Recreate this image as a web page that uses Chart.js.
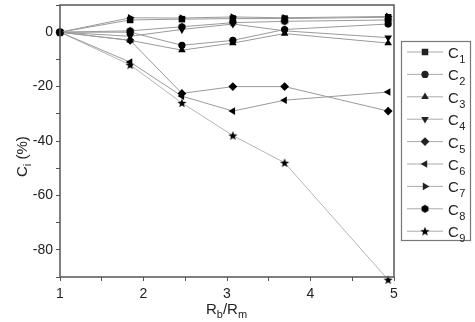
<!DOCTYPE html>
<html lang="en">
<head>
  <meta charset="UTF-8">
  <title>C_i vs R_b/R_m</title>
  <script src="https://cdn.jsdelivr.net/npm/chart.js"></script>
  <style>
    html, body { margin: 0; padding: 0; background: #fff; }
    #wrap { width: 475px; height: 322px; position: relative; }
  </style>
</head>
<body>
  <div id="wrap"><canvas id="chart" width="475" height="322"></canvas></div>
  <script>
    // x positions (R_b/R_m) and each series in %
    const ratios = [1, 1.84, 2.46, 3.07, 3.69, 4.93];
    const seriesNames = ["1", "2", "3", "4", "5", "6", "7", "8", "9"];
    const c1 = [0, 4.5, 4.8, 5.0, 5.0, 5.5];
    const c2 = [0, 0, -4.8, -3.0, 1.0, 3.0];
    const c3 = [0, -3.0, -6.6, -4.0, -0.5, -4.0];
    const c4 = [0, -1.5, 1.0, 3.0, 0.5, -2.0];
    const c5 = [0, -3.0, -22.5, -20.0, -20.0, -29.0];
    const c6 = [0, -11.0, -23.5, -29.0, -25.0, -22.0];
    const c7 = [0, 5.3, 5.2, 5.6, 5.3, 5.8];
    const c8 = [0, 0.5, 2.0, 3.5, 4.0, 4.5];
    const c9 = [0, -12.0, -26.0, -38.0, -48.0, -91.0];
    const yTicks = [0, -20, -40, -60, -80];
    const xTicks = [1, 2, 3, 4, 5];

    // custom markers the library lacks
    function makeMarker(kind) {
      const c = document.createElement("canvas");
      c.width = 10; c.height = 10;
      const g = c.getContext("2d");
      g.fillStyle = "#000";
      g.beginPath();
      if (kind === "hex") {
        for (let i = 0; i < 6; i++) {
          const a = Math.PI / 6 + i * Math.PI / 3;
          g.lineTo(5 + 4 * Math.cos(a), 5 + 4 * Math.sin(a));
        }
      } else {
        for (let i = 0; i < 10; i++) {
          const r = i % 2 === 0 ? 4.8 : 2.0;
          const a = -Math.PI / 2 + i * Math.PI / 5;
          g.lineTo(5 + r * Math.cos(a), 5.4 + r * Math.sin(a));
        }
      }
      g.closePath();
      g.fill();
      return c;
    }
    const hexMarker = makeMarker("hex");
    const starMarker = makeMarker("star");

    const styles = [
      { pointStyle: "rect", radius: 4.6, rotation: 0 },
      { pointStyle: "circle", radius: 3.6, rotation: 0 },
      { pointStyle: "triangle", radius: 4.4, rotation: 0 },
      { pointStyle: "triangle", radius: 4.4, rotation: 180 },
      { pointStyle: "rectRot", radius: 4.4, rotation: 0 },
      { pointStyle: "triangle", radius: 4.4, rotation: 270 },
      { pointStyle: "triangle", radius: 4.4, rotation: 90 },
      { pointStyle: hexMarker, radius: 4, rotation: 0 },
      { pointStyle: starMarker, radius: 4, rotation: 0 }
    ];
    const allSeries = [c1, c2, c3, c4, c5, c6, c7, c8, c9];

    const datasets = allSeries.map((vals, i) => ({
      label: "C" + seriesNames[i],
      data: ratios.map((x, k) => ({ x: x, y: vals[k] })),
      borderColor: i === 8 ? "#b5b5b5" : "#9a9a9a",
      borderWidth: 1,
      backgroundColor: "#000",
      pointBackgroundColor: "#000",
      pointBorderColor: "#000",
      pointBorderWidth: 0,
      pointStyle: styles[i].pointStyle,
      pointRadius: styles[i].radius,
      pointRotation: styles[i].rotation,
      tension: 0,
      clip: false
    }));

    // frame, axis titles with subscripts, and the boxed legend
    const extras = {
      id: "extras",
      afterDraw(chart) {
        const ctx = chart.ctx;
        const a = chart.chartArea;
        ctx.save();
        ctx.strokeStyle = "#555";
        ctx.lineWidth = 1.5;
        ctx.strokeRect(a.left, a.top, a.right - a.left, a.bottom - a.top);

        ctx.fillStyle = "#222";
        ctx.textBaseline = "alphabetic";
        // x title: R_b/R_m
        let x = 206, y = 314;
        const part = (t, big, dy) => {
          ctx.font = (big ? "15px" : "11px") + " 'Liberation Sans', Arial, sans-serif";
          ctx.fillText(t, x, y + dy);
          x += ctx.measureText(t).width;
        };
        part("R", true, 0); part("b", false, 4); part("/R", true, 0); part("m", false, 4);

        // y title: C_i (%)
        ctx.translate(27, 153);
        ctx.rotate(-Math.PI / 2);
        x = -24; y = 0;
        part("C", true, 0); part("i", false, 4); part(" (%)", true, 0);
        ctx.setTransform(1, 0, 0, 1, 0, 0);

        // legend
        ctx.strokeStyle = "#777";
        ctx.lineWidth = 1.2;
        ctx.strokeRect(401.5, 41.5, 69, 199);
        chart.data.datasets.forEach((ds, i) => {
          const ly = 52 + i * 22.4;
          ctx.strokeStyle = "#aaa";
          ctx.lineWidth = 1;
          ctx.beginPath();
          ctx.moveTo(407, ly);
          ctx.lineTo(443, ly);
          ctx.stroke();
          Chart.helpers.drawPoint(ctx, {
            pointStyle: ds.pointStyle,
            radius: ds.pointRadius,
            rotation: ds.pointRotation,
            borderWidth: 0
          }, 425, ly);
          ctx.fillStyle = "#222";
          x = 448; y = ly + 6;
          part("C", true, 0);
          x += 0.5;
          part(seriesNames[i], false, 5);
        });
        ctx.restore();
      }
    };

    new Chart(document.getElementById("chart"), {
      type: "line",
      data: { datasets },
      options: {
        responsive: false,
        animation: false,
        layout: { padding: { top: 0, right: 81, left: 0, bottom: 0 } },
        plugins: { legend: { display: false }, tooltip: { enabled: false } },
        scales: {
          x: {
            type: "linear",
            min: 1,
            max: 5,
            afterFit: (s) => { s.height = 45; s.paddingLeft = 0; s.paddingRight = 0; },
            ticks: {
              stepSize: 0.5,
              autoSkip: false,
              maxRotation: 0,
              padding: 5,
              color: "#222",
              font: { family: "'Liberation Sans', Arial, sans-serif", size: 14 },
              callback: (v) => xTicks.includes(v) ? String(v) : ""
            },
            grid: { drawOnChartArea: false, drawTicks: true, tickLength: 4, color: "#555", lineWidth: 1 },
            border: { display: false }
          },
          y: {
            min: -90,
            max: 10,
            afterFit: (s) => { s.width = 60; s.paddingTop = 5; s.paddingBottom = 0; },
            ticks: {
              stepSize: 10,
              autoSkip: false,
              padding: 3,
              color: "#222",
              font: { family: "'Liberation Sans', Arial, sans-serif", size: 14 },
              callback: (v) => yTicks.includes(v) ? String(v) : ""
            },
            grid: { drawOnChartArea: false, drawTicks: true, tickLength: 4, color: "#555", lineWidth: 1 },
            border: { display: false }
          }
        }
      },
      plugins: [extras]
    });
  </script>
</body>
</html>
